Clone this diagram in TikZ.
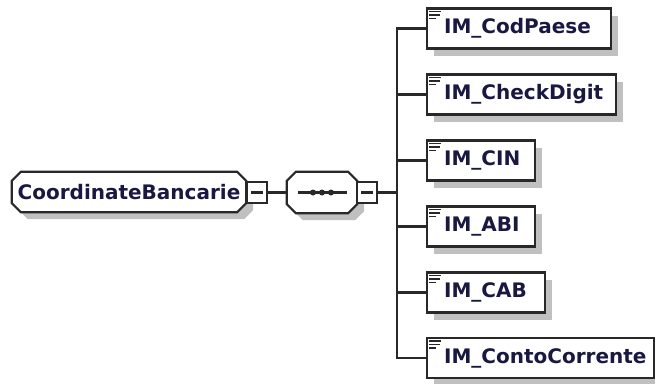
\documentclass[tikz,border=0pt]{standalone}
\usepackage{fontspec}
\setmainfont{DejaVu Sans}
\usetikzlibrary{shadows,backgrounds}
\definecolor{lineC}{RGB}{40,40,40}
\definecolor{textC}{RGB}{24,24,64}
\definecolor{shadC}{RGB}{192,192,192}

\tikzstyle{shd}=[general shadow={fill=shadC,shadow xshift=7pt,shadow yshift=-7pt}]
\tikzstyle{oS}=[rectangle,minimum height=40pt,inner sep=0pt,font=\bfseries\fontsize{20}{21}\selectfont,text=textC]
\tikzstyle{mS}=[rectangle,minimum width=20pt,minimum height=21pt,inner sep=0pt,draw=lineC,line width=2.2pt,fill=white]
\tikzstyle{eS}=[rectangle,minimum height=40pt,inner xsep=17pt,inner ysep=0pt,draw=lineC,line width=2.2pt,fill=white,shd,font=\bfseries\fontsize{20}{21}\selectfont,text=textC,align=left,anchor=west]
\tikzstyle{cS}=[line width=2.2pt,draw=lineC]

\newcommand{\octpath}[2]{([xshift=#2]#1.north west) -- ([xshift=-#2]#1.north east) -- ([yshift=-#2]#1.north east) -- ([yshift=#2]#1.south east) -- ([xshift=-#2]#1.south east) -- ([xshift=#2]#1.south west) -- ([yshift=#2]#1.south west) -- ([yshift=-#2]#1.north west) -- cycle}
\newcommand{\octbox}[2]{%
  \begin{scope}[on background layer]
    \fill[shadC,transform canvas={shift={(7pt,-7pt)}}] \octpath{#1}{#2};
    \filldraw[fill=white,draw=lineC,line width=2.2pt] \octpath{#1}{#2};
  \end{scope}}
\newcommand{\minusbar}[1]{\draw[cS] ([xshift=-6pt]#1.center) -- ([xshift=6pt]#1.center);}
\newcommand{\elemicon}[1]{%
  \draw[line width=1.8pt,lineC] ([xshift=3pt,yshift=-4pt]#1.north west) -- ++(12,0);
  \draw[line width=1.8pt,lineC] ([xshift=3pt,yshift=-7.5pt]#1.north west) -- ++(11,0);
  \draw[line width=1.8pt,lineC] ([xshift=3pt,yshift=-11pt]#1.north west) -- ++(7,0);}

\begin{document}
\begin{tikzpicture}[x=1pt,y=-1pt]
    \useasboundingbox (0,0) rectangle (655,383);
    % root and sequence
    \draw (129,192) node[oS,minimum width=234pt] (nRoot) {CoordinateBancarie};
    \octbox{nRoot}{9pt}
    \draw (257,192.5) node[mS] (nRootM) {};
    \draw (322,192.5) node[oS,minimum width=70pt,minimum height=41pt] (nSeq) {};
    \octbox{nSeq}{9pt}
    \draw (367,192.5) node[mS] (nSeqM) {};
    \minusbar{nRootM}
    \minusbar{nSeqM}
    \draw[cS] ([xshift=-24pt]nSeq.center) -- ([xshift=25pt]nSeq.center);
    \foreach \dx in {-9,0,9} \fill[lineC] ([xshift=\dx pt]nSeq.center) circle (3pt);
    \coordinate (trunk) at (397,192.5);
    % children
    \draw (426,28.5) node[eS,text width=150pt] (nCod) {IM\_CodPaese};
    \draw (426,94.5) node[eS,text width=155pt] (nCheck) {IM\_CheckDigit};
    \draw (426,160.5) node[eS,text width=74pt] (nCIN) {IM\_CIN};
    \draw (426,226.5) node[eS,text width=74pt] (nABI) {IM\_ABI};
    \draw (426,292.5) node[eS,text width=84pt] (nCAB) {IM\_CAB};
    \draw (426,358) node[eS,text width=193pt] (nConto) {IM\_ContoCorrente};
    \foreach \n in {nCod,nCheck,nCIN,nABI,nCAB,nConto} {\elemicon{\n}}
    \path
        (nRootM) edge[cS] (nSeq)
        (nSeqM) edge[cS] (trunk)
    ;
    \foreach \n in {nCod,nCheck,nCIN,nABI,nCAB,nConto} {\draw[cS] (\n.west) -| (trunk);}
\end{tikzpicture}
\end{document}
